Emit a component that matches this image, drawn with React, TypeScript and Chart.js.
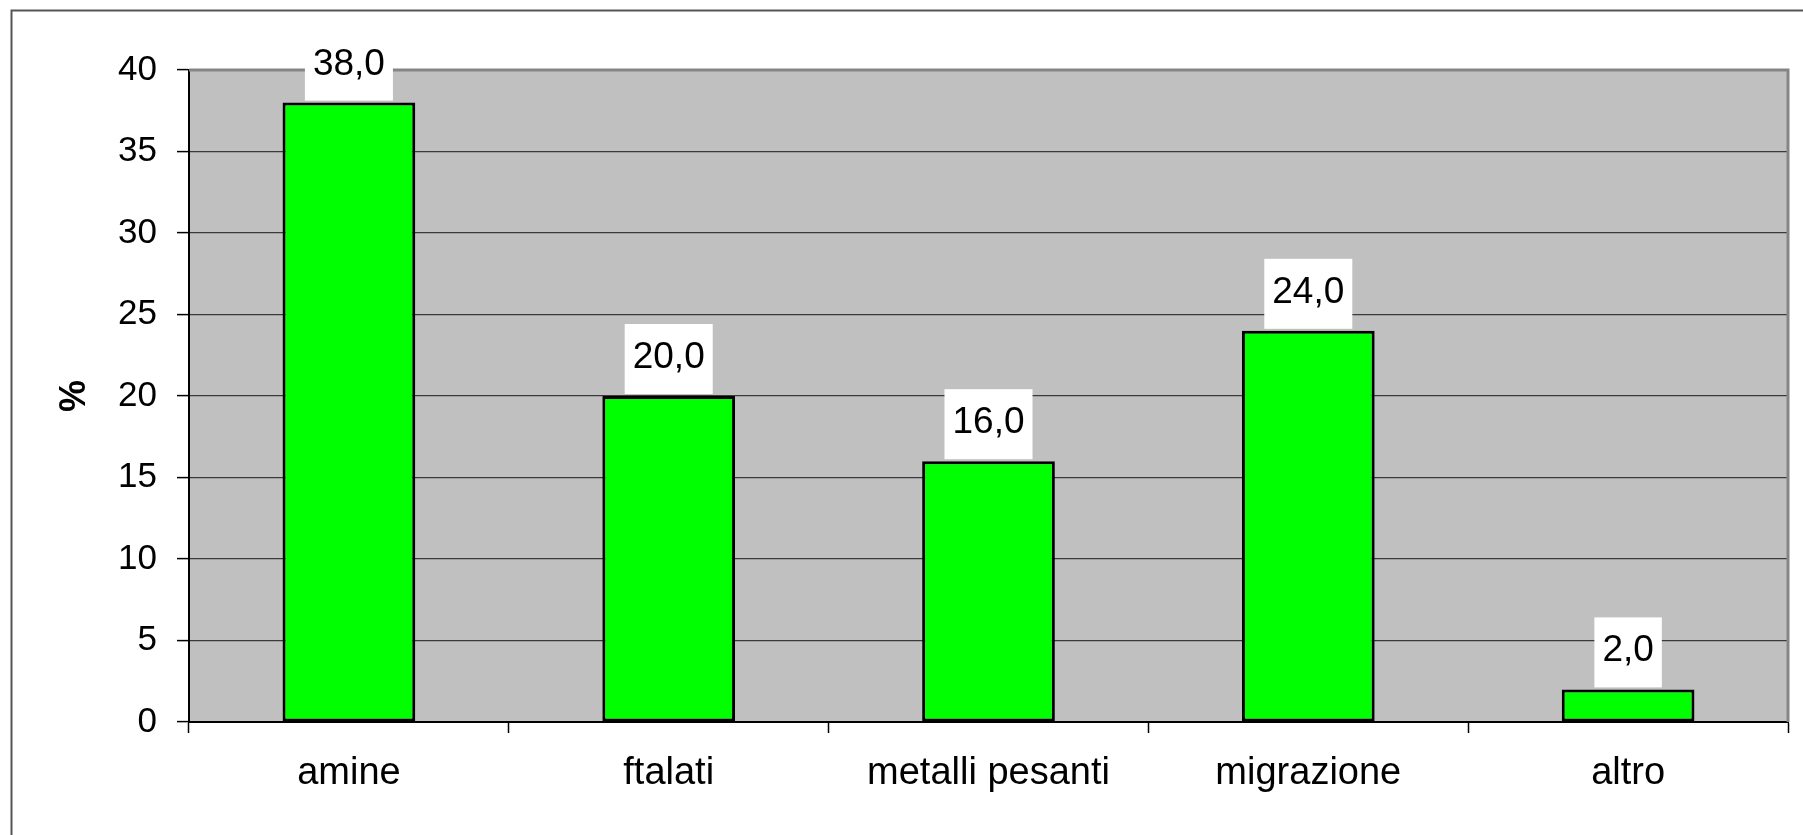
import React, { useEffect, useRef } from "react";
import { Chart, registerables } from "chart.js";

Chart.register(...registerables);

const categories = ["amine", "ftalati", "metalli pesanti", "migrazione", "altro"];
const values = [38.0, 20.0, 16.0, 24.0, 2.0];
const yMin = 0;
const yMax = 40;
const yStep = 5;
const axisTitle = "%";

const W = 1803;
const H = 835;
const FONT = "'Liberation Sans', Arial, sans-serif";

const fmt = (v: number) => v.toFixed(1).replace(".", ",");

const decor = {
  id: "decor",
  beforeDraw(chart: any) {
    const { ctx, chartArea: a } = chart;
    ctx.save();
    ctx.fillStyle = "#ffffff";
    ctx.fillRect(0, 0, chart.width, chart.height);
    ctx.fillStyle = "#C0C0C0";
    ctx.fillRect(a.left, a.top, a.right - a.left, a.bottom - a.top);
    ctx.strokeStyle = "#555555";
    ctx.lineWidth = 2;
    ctx.beginPath();
    ctx.moveTo(11.5, chart.height);
    ctx.lineTo(11.5, 10.5);
    ctx.lineTo(chart.width, 10.5);
    ctx.stroke();
    ctx.restore();
  },
  beforeDatasetsDraw(chart: any) {
    const { ctx, chartArea: a } = chart;
    ctx.save();
    ctx.strokeStyle = "#858585";
    ctx.lineWidth = 3;
    ctx.beginPath();
    ctx.moveTo(a.left, a.top);
    ctx.lineTo(a.right, a.top);
    ctx.lineTo(a.right, a.bottom);
    ctx.stroke();
    ctx.restore();
  },
  afterDatasetsDraw(chart: any) {
    const { ctx } = chart;
    const meta = chart.getDatasetMeta(0);
    ctx.save();
    ctx.font = `37px ${FONT}`;
    ctx.textAlign = "center";
    ctx.textBaseline = "alphabetic";
    meta.data.forEach((el: any, i: number) => {
      const txt = fmt(values[i]);
      const w = ctx.measureText(txt).width;
      const boxW = w + 16;
      const boxH = 70;
      const bottom = el.y - 2;
      ctx.fillStyle = "#ffffff";
      ctx.fillRect(el.x - boxW / 2, bottom - boxH, boxW, boxH);
      ctx.fillStyle = "#000000";
      ctx.fillText(txt, el.x, bottom - 26);
    });
    ctx.restore();
  },
  afterDraw(chart: any) {
    const { ctx, chartArea: a } = chart;
    ctx.save();
    ctx.font = `bold 36px ${FONT}`;
    ctx.fillStyle = "#000000";
    ctx.textAlign = "center";
    ctx.textBaseline = "middle";
    ctx.translate(75, (a.top + a.bottom) / 2);
    ctx.rotate(-Math.PI / 2);
    ctx.fillText(axisTitle, 0, 0);
    ctx.restore();
  },
};

export default function App() {
  const ref = useRef<HTMLCanvasElement | null>(null);

  useEffect(() => {
    if (!ref.current) return;
    const chart = new Chart(ref.current, {
      type: "bar",
      data: {
        labels: categories,
        datasets: [
          {
            data: values,
            backgroundColor: "#00FF00",
            borderColor: "#000000",
            borderWidth: 3,
            borderSkipped: false,
            barPercentage: 0.415,
            categoryPercentage: 1,
          },
        ],
      },
      options: {
        animation: false,
        responsive: false,
        devicePixelRatio: 1,
        layout: { padding: { top: 70, right: 15, left: 0, bottom: 0 } },
        plugins: {
          legend: { display: false },
          tooltip: { enabled: false },
          title: { display: false },
        },
        scales: {
          x: {
            offset: true,
            afterFit: (s: any) => {
              s.height = 113;
            },
            grid: {
              offset: true,
              drawOnChartArea: false,
              drawTicks: true,
              tickLength: 11,
              tickColor: "#000000",
              tickWidth: 1.5,
            },
            border: { display: true, color: "#000000", width: 2 },
            ticks: {
              color: "#000000",
              font: { family: FONT, size: 38 },
              padding: 18,
              maxRotation: 0,
              autoSkip: false,
            },
          },
          y: {
            min: yMin,
            max: yMax,
            afterFit: (s: any) => {
              s.width = 189;
            },
            grid: {
              color: "#3a3a3a",
              lineWidth: 1.2,
              drawTicks: true,
              tickLength: 12,
              tickColor: "#000000",
              tickWidth: 1.5,
            },
            border: { display: true, color: "#000000", width: 2 },
            ticks: {
              stepSize: yStep,
              color: "#000000",
              font: { family: FONT, size: 35 },
              padding: 20,
            },
          },
        },
      },
      plugins: [decor],
    });
    return () => chart.destroy();
  }, []);

  return (
    <div
      style={{
        position: "fixed",
        left: 0,
        top: 0,
        width: W,
        height: H,
        overflow: "hidden",
        background: "#ffffff",
      }}
    >
      <canvas ref={ref} width={W} height={H} style={{ width: W, height: H, display: "block" }} />
    </div>
  );
}
